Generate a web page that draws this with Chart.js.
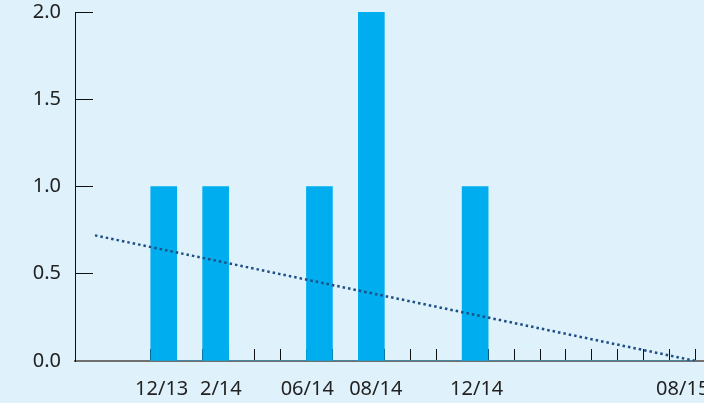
<!DOCTYPE html>
<html><head><meta charset="utf-8">
<script src="https://cdn.jsdelivr.net/npm/chart.js@4"></script>
<style>html,body{margin:0;padding:0;background:#dff1fb;} canvas{display:block}</style>
</head><body>
<canvas id="c" width="704" height="403"></canvas>
<script>
// Monthly categories (month index 0 = 12/13)
const months = ['12/13','01/14','2/14','03/14','04/14','05/14','06/14','07/14','08/14','09/14','10/14','11/14',
                '12/14','01/15','02/15','03/15','04/15','05/15','06/15','07/15','08/15'];
const counts = [1,0,1,0,0,0,1,0,2,0,0,0,1,0,0,0,0,0,0,0,0];
const shownLabels = ['12/13','2/14','06/14','08/14','12/14','08/15'];
// Dotted trend line end points (month index, value)
const trendX = [-2.65, 20.5];
const trendY = [0.72, 0];
const yTicks = [0, 0.5, 1, 1.5, 2];

// --- layout / styling below ---
// small horizontal nudges (in month units) so neighbouring labels do not collide
const labelShift = {'12/13': -0.08, '2/14': 0.2, '06/14': -0.47, '08/14': 0.17, '12/14': 0.06, '08/15': 0};
const labelAt = new Map(shownLabels.map(l => [months.indexOf(l) + (labelShift[l] || 0), l]));
const boundaries = months.map((m, i) => i - 0.5).concat([months.length - 0.5]);
const xTickValues = boundaries.concat([...labelAt.keys()]).sort((a, b) => a - b);

const FONT = {family: '"Noto Sans", sans-serif', size: 20};

new Chart(document.getElementById('c'), {
  type: 'bar',
  data: {
    datasets: [
      {
        type: 'line',
        data: trendX.map((x, i) => ({x, y: trendY[i]})),
        borderColor: '#1d4f85',
        borderWidth: 2.5,
        borderDash: [2.5, 3],
        pointRadius: 0,
        fill: false,
        order: 0
      },
      {
        type: 'bar',
        data: counts.map((v, i) => ({x: i, y: v})),
        backgroundColor: '#00aeef',
        borderWidth: 0,
        barThickness: 26,
        order: 1
      }
    ]
  },
  options: {
    responsive: false,
    animation: false,
    devicePixelRatio: 1,
    layout: {padding: {top: 12, right: 0, bottom: 0, left: 0}},
    plugins: {legend: {display: false}, tooltip: {enabled: false}},
    scales: {
      x: {
        type: 'linear',
        offset: false,
        min: -3.42,
        max: 20.82,
        afterBuildTicks: s => { s.ticks = xTickValues.map(v => ({value: v})); },
        afterFit: s => { s.height = 42; s.paddingLeft = 0; s.paddingRight = 0; },
        border: {display: true, color: '#707070', width: 2},
        grid: {
          offset: false,
          drawOnChartArea: false,
          drawTicks: true,
          tickLength: -12,
          tickWidth: 1,
          tickColor: ctx => (ctx.tick && labelAt.has(ctx.tick.value)) ? 'rgba(0,0,0,0)' : '#111'
        },
        ticks: {
          autoSkip: false,
          maxRotation: 0,
          minRotation: 0,
          padding: 28,
          color: '#222',
          font: FONT,
          callback: v => labelAt.has(v) ? labelAt.get(v) : ''
        }
      },
      y: {
        type: 'linear',
        min: 0,
        max: 2,
        afterBuildTicks: s => { s.ticks = yTicks.map(v => ({value: v})); },
        afterFit: s => { s.width = 75; s.paddingTop = 0; s.paddingBottom = 0; },
        border: {display: true, color: '#111', width: 1},
        grid: {
          drawOnChartArea: false,
          drawTicks: true,
          tickLength: -18,
          tickWidth: 1,
          tickColor: '#111'
        },
        ticks: {
          padding: 32,
          color: '#222',
          font: FONT,
          callback: v => v.toFixed(1)
        }
      }
    }
  }
});
</script>
</body></html>
